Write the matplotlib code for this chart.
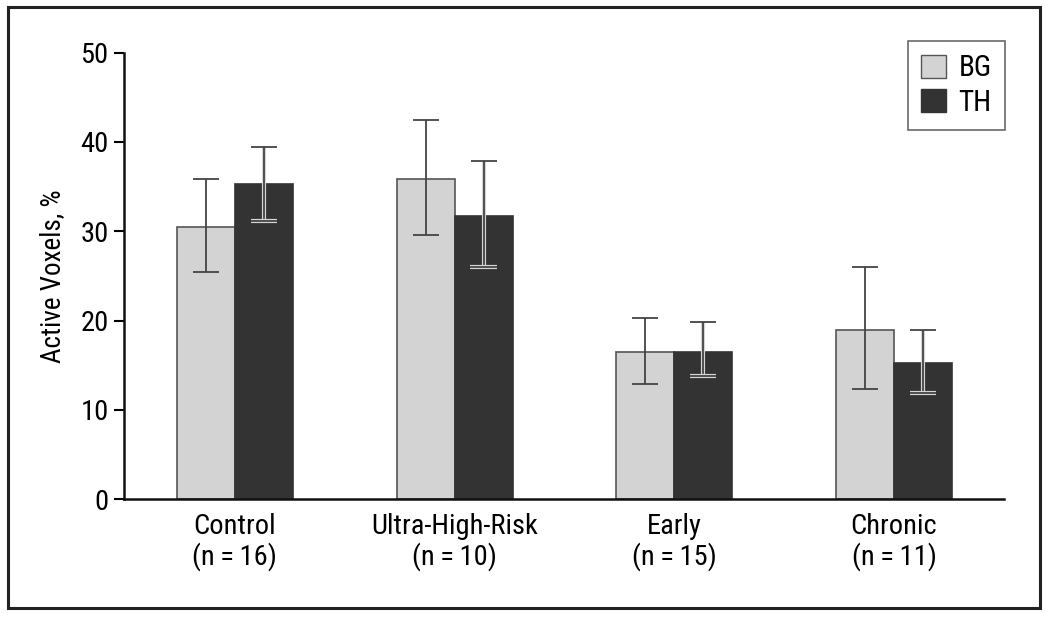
import numpy as np
import matplotlib
matplotlib.use("Agg")
import matplotlib.pyplot as plt
import matplotlib.patheffects as pe
from matplotlib.patches import Rectangle, Patch

plt.rcParams['font.family'] = ['Roboto Condensed', 'DejaVu Sans']

groups = ["Control\n(n\u2009=\u200916)", "Ultra-High-Risk\n(n\u2009=\u200910)",
          "Early\n(n\u2009=\u200915)", "Chronic\n(n\u2009=\u200911)"]

bg_mean = [30.5, 35.9, 16.5, 18.9]
bg_low = [25.4, 29.6, 12.9, 12.3]
bg_high = [35.9, 42.4, 20.3, 26.0]

th_mean = [35.3, 31.7, 16.5, 15.3]
th_low = [31.1, 26.0, 13.8, 11.9]
th_high = [39.4, 37.9, 19.8, 18.9]

fig = plt.figure(figsize=(10.5, 6.18), dpi=100)
ax = fig.add_axes([0.118, 0.192, 0.838, 0.723])

x = np.arange(len(groups))
w = 0.264


def errs(mean, low, high):
    m = np.array(mean)
    return [m - np.array(low), np.array(high) - m]


ax.bar(x - w / 2, bg_mean, w, color="#d3d3d3", edgecolor="#555555", linewidth=1.2, zorder=2)
ax.bar(x + w / 2, th_mean, w, color="#333333", edgecolor="#333333", linewidth=1.2, zorder=2)

# error bars; the parts inside the dark TH bars get a light halo
halo = [pe.Stroke(linewidth=3.0, foreground="#d5d5d5"), pe.Normal()]
for xs, m, lo, hi, dark in [(x - w / 2, bg_mean, bg_low, bg_high, False),
                            (x + w / 2, th_mean, th_low, th_high, True)]:
    eb = ax.errorbar(xs, m, yerr=errs(m, lo, hi), fmt="none", ecolor="#444444",
                     elinewidth=1.3, capsize=9.4, capthick=1.3, zorder=3)
    if dark:
        eb.lines[1][0].set_path_effects(halo)
        for art in eb.lines[2]:
            art.set_path_effects(halo)

ax.set_xlim(-0.505, 3.5)
ax.set_ylim(0, 50)
ax.set_yticks([0, 10, 20, 30, 40, 50])
ax.set_xticks(x)
ax.set_xticklabels(groups, fontsize=20.5, linespacing=1.1)
ax.tick_params(axis="x", length=0, pad=10)
ax.tick_params(axis="y", length=7, width=1.5, labelsize=20.5, pad=4, direction="out")
ax.set_ylabel("Active Voxels, %", fontsize=19.5, labelpad=10)

for s in ["top", "right"]:
    ax.spines[s].set_visible(False)
for s in ["left", "bottom"]:
    ax.spines[s].set_linewidth(1.8)
    ax.spines[s].set_color("#111111")

handles = [Patch(facecolor="#d3d3d3", edgecolor="#555555", label="BG"),
           Patch(facecolor="#333333", edgecolor="#333333", label="TH")]
leg = ax.legend(handles=handles, loc="upper right", bbox_to_anchor=(1.001, 1.025),
                borderaxespad=0, fontsize=21, frameon=True, fancybox=False,
                handlelength=0.86, handleheight=0.82, handletextpad=0.42,
                borderpad=0.45, labelspacing=0.22)
leg.get_frame().set_edgecolor("#444444")
leg.get_frame().set_linewidth(1.2)

fig.patches.append(Rectangle((0.0076, 0.016), 0.983, 0.9725, transform=fig.transFigure,
                             fill=False, edgecolor="#222222", linewidth=2.2))

fig.savefig("out.png", dpi=100)
